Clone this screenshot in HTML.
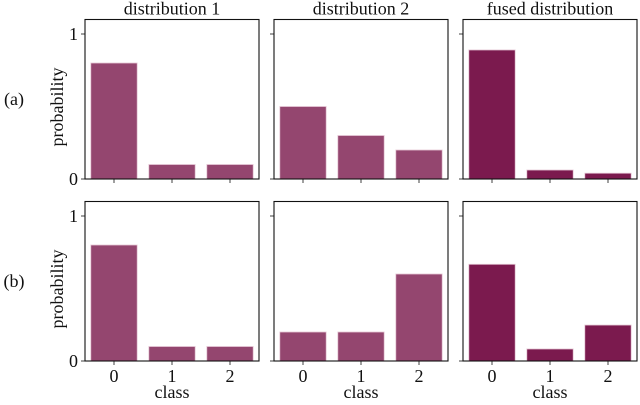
<!DOCTYPE html>
<html><head><meta charset="utf-8"><style>
body{margin:0;background:#fff}
svg text{font-family:"Liberation Serif",serif;fill:#111}
</style></head><body>
<svg id="c" width="640" height="400" viewBox="0 0 640 400"></svg>
<script>
const classes=[0,1,2];
const titles=["distribution 1","distribution 2","fused distribution"];
const rowLabels=["(a)","(b)"];
const dist1A=[0.8,0.1,0.1];
const dist2A=[0.5,0.3,0.2];
const fusedA=[0.89,0.062,0.04];
const dist1B=[0.8,0.1,0.1];
const dist2B=[0.2,0.2,0.6];
const fusedB=[0.667,0.083,0.248];
const yTicks=[0,1];
const rows=[[dist1A,dist2A,fusedA],[dist1B,dist2B,fusedB]];
const NS="http://www.w3.org/2000/svg";
const svg=document.getElementById('c');
function mk(t,a,p){const e=document.createElementNS(NS,t);for(const k in a)e.setAttribute(k,a[k]);(p||svg).appendChild(e);return e;}
const lefts=[85,274,463],W=174,bottoms=[179,361],H=159.5;
rows.forEach((row,r)=>{
  const lab=mk('text',{x:14,y:bottoms[r]-74,'font-size':18,'text-anchor':'middle'});
  
  
  lab.textContent=rowLabels[r];
  const yl=mk('text',{transform:`translate(63,${bottoms[r]-72}) rotate(-90)`,'font-size':18,'text-anchor':'middle'});
  
  
  yl.textContent='probability';
  row.forEach((vals,c)=>{
    const L=lefts[c],B=bottoms[r];
    const xs=v=>L+(v+0.5)*W/3, ys=v=>B-v*H/1.1;
    const g=mk('g',{});
    
    
    vals.forEach((v,i)=>{
      const bw=0.8*W/3;
      const b=mk('rect',{x:xs(classes[i])-bw/2,y:ys(v),width:bw,height:B-ys(v),fill:c==2?'#7b1a4e':'#94466f',stroke:'#e6c9d6','stroke-width':0.8},g);
      
      
    });
    mk('rect',{x:L,y:B-H,width:W,height:H,fill:'none',stroke:'#111','stroke-width':1.1},g);
    classes.forEach(k=>{
      mk('line',{x1:xs(k),x2:xs(k),y1:B,y2:B+4,stroke:'#111','stroke-width':0.8},g);
      if(r==1){const t=mk('text',{x:xs(k),y:B+21,'font-size':18,'text-anchor':'middle'},g);
        
        
        t.textContent=k;}
    });
    yTicks.forEach(v=>{
      mk('line',{x1:L-4,x2:L,y1:ys(v),y2:ys(v),stroke:'#111','stroke-width':0.8},g);
      if(c==0){const t=mk('text',{x:L-7,y:ys(v)+6,'font-size':18,'text-anchor':'end'},g);
        
        
        t.textContent=v;}
    });
    if(r==0){const t=mk('text',{x:L+W/2,y:B-H-5,'font-size':18,'text-anchor':'middle'},g);
      
      
      t.textContent=titles[c];}
    else{const t=mk('text',{x:L+W/2,y:B+37,'font-size':18,'text-anchor':'middle'},g);
      
      
      t.textContent='class';}
  });
});
</script>
</body></html>
